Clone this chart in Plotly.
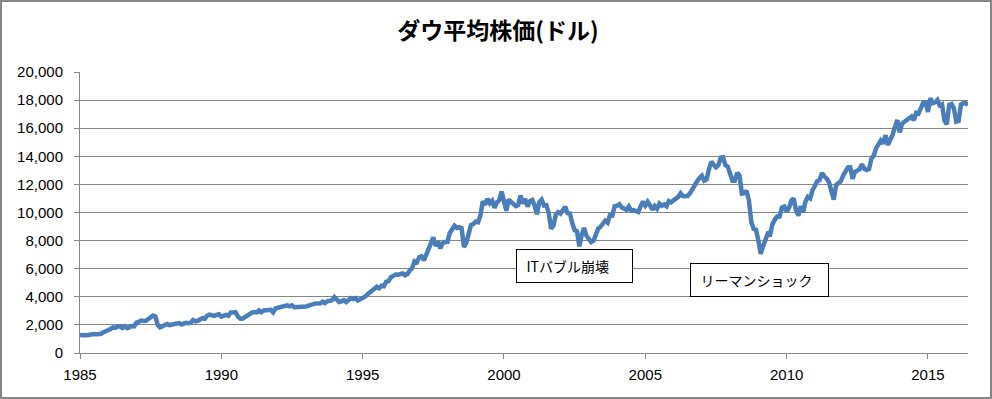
import plotly.graph_objects as go

# Monthly closing values of the Dow Jones Industrial Average (USD)
dow_1985 = [1277, 1299, 1267, 1258, 1315, 1336, 1348, 1334, 1329, 1374, 1472, 1547]
dow_1986 = [1571, 1709, 1819, 1784, 1877, 1893, 1775, 1898, 1768, 1878, 1914, 1896]
dow_1987 = [2158, 2224, 2305, 2286, 2292, 2419, 2572, 2663, 2596, 1994, 1834, 1939]
dow_1988 = [1958, 2072, 1988, 2032, 2031, 2142, 2129, 2032, 2113, 2149, 2115, 2169]
dow_1989 = [2342, 2258, 2294, 2419, 2480, 2440, 2661, 2737, 2693, 2645, 2706, 2753]
dow_1990 = [2591, 2627, 2707, 2657, 2877, 2881, 2905, 2615, 2453, 2442, 2560, 2634]
dow_1991 = [2736, 2882, 2914, 2888, 3028, 2907, 3025, 3044, 3017, 3069, 2895, 3169]
dow_1992 = [3224, 3268, 3236, 3359, 3397, 3319, 3394, 3257, 3272, 3226, 3306, 3301]
dow_1993 = [3310, 3371, 3435, 3428, 3527, 3516, 3540, 3651, 3555, 3681, 3684, 3754]
dow_1994 = [3978, 3832, 3636, 3682, 3758, 3625, 3765, 3913, 3843, 3908, 3739, 3834]
dow_1995 = [3844, 4011, 4158, 4321, 4465, 4556, 4709, 4611, 4789, 4756, 5075, 5117]
dow_1996 = [5395, 5486, 5587, 5569, 5643, 5655, 5529, 5616, 5882, 6029, 6522, 6448]
dow_1997 = [6813, 6878, 6584, 7009, 7331, 7673, 8223, 7622, 7945, 7442, 7823, 7908]
dow_1998 = [7907, 8546, 8800, 9063, 8900, 8952, 8883, 7539, 7843, 8592, 9117, 9181]
dow_1999 = [9359, 9307, 9786, 10789, 10560, 10971, 10655, 10829, 10337, 10730, 10878, 11497]
dow_2000 = [10941, 10128, 10922, 10734, 10522, 10448, 10522, 11215, 10651, 10971, 10415, 10787]
dow_2001 = [10887, 10495, 9879, 10735, 10912, 10502, 10523, 9950, 8848, 9075, 9852, 10022]
dow_2002 = [9920, 10106, 10404, 9946, 9925, 9243, 8737, 8664, 7592, 8397, 8896, 8342]
dow_2003 = [8054, 7891, 7992, 8480, 8850, 8985, 9234, 9416, 9275, 9801, 9782, 10454]
dow_2004 = [10488, 10584, 10358, 10226, 10188, 10435, 10140, 10174, 10080, 10027, 10428, 10783]
dow_2005 = [10490, 10766, 10504, 10193, 10467, 10275, 10641, 10482, 10569, 10440, 10806, 10718]
dow_2006 = [10865, 10993, 11109, 11367, 11168, 11150, 11186, 11381, 11679, 12081, 12222, 12463]
dow_2007 = [12622, 12268, 12354, 13063, 13628, 13409, 13212, 13358, 13896, 13930, 13372, 13265]
dow_2008 = [12650, 12266, 12263, 12820, 12638, 11350, 11378, 11544, 10851, 9325, 8829, 8776]
dow_2009 = [8001, 7063, 7609, 8168, 8500, 8447, 9172, 9496, 9712, 9713, 10345, 10428]
dow_2010 = [10067, 10325, 10857, 11009, 10137, 9774, 10466, 10015, 10788, 11118, 11006, 11578]
dow_2011 = [11892, 12226, 12320, 12811, 12570, 12414, 12143, 11614, 10913, 11955, 12046, 12218]
dow_2012 = [12633, 12952, 13212, 13214, 12393, 12880, 13009, 13091, 13437, 13096, 13026, 13104]
dow_2013 = [13861, 14054, 14579, 14840, 15116, 14910, 15500, 14810, 15130, 15546, 16086, 16577]
dow_2014 = [15699, 16322, 16458, 16581, 16717, 16827, 16563, 17098, 17043, 17391, 17828, 17823]
dow_2015 = [17165, 18133, 17776, 17841, 18011, 17620, 17690, 16528, 16285, 17664, 17720, 17425]
dow_2016 = [16466, 16517, 17685, 17774, 17787, 17650]

years = list(range(1985, 2017))
yearly = [dow_1985, dow_1986, dow_1987, dow_1988, dow_1989, dow_1990, dow_1991,
          dow_1992, dow_1993, dow_1994, dow_1995, dow_1996, dow_1997, dow_1998,
          dow_1999, dow_2000, dow_2001, dow_2002, dow_2003, dow_2004, dow_2005,
          dow_2006, dow_2007, dow_2008, dow_2009, dow_2010, dow_2011, dow_2012,
          dow_2013, dow_2014, dow_2015, dow_2016]

x_vals, y_vals = [], []
for yr, vals in zip(years, yearly):
    for m, v in enumerate(vals):
        x_vals.append(yr + m / 12)
        y_vals.append(v)

title_text = "ダウ平均株価(ドル)"
x_ticks = [1985, 1990, 1995, 2000, 2005, 2010, 2015]
y_ticks = list(range(0, 20001, 2000))
y_tick_labels = [f"{v:,}" for v in y_ticks]

events = ["ITバブル崩壊", "リーマンショック"]
event_x = [2002.49, 2009.04]
event_y = [6190, 5196]
event_w = [115, 137]

grid = "#868686"
fig = go.Figure()
fig.add_trace(go.Scatter(x=x_vals, y=y_vals, mode="lines",
                         line=dict(color="#4a7ebb", width=4.5), hoverinfo="skip"))

for txt, ex, ey, ew in zip(events, event_x, event_y, event_w):
    fig.add_annotation(x=ex, y=ey, xref="x", yref="y", text="&nbsp;&nbsp;&nbsp;" + txt,
                       showarrow=False, width=ew, height=32, align="left", valign="middle",
                       bordercolor="#000000", borderwidth=1, borderpad=0, bgcolor="#ffffff",
                       font=dict(family="Noto Sans CJK JP", size=14, color="#000000"))

fig.update_layout(
    width=992, height=399,
    margin=dict(l=80, r=24, t=72, b=46),
    paper_bgcolor="#ffffff", plot_bgcolor="#ffffff",
    showlegend=False,
    title=dict(text=title_text, x=0.502, xanchor="center", y=0.922, yanchor="middle",
               font=dict(family="Noto Sans CJK JP", size=23, color="#000000", weight="bold")),
    font=dict(family="Liberation Sans", size=15, color="#000000"),
    xaxis=dict(range=[1985, 2016 + 5 / 12], tickvals=x_ticks, ticktext=[str(t) for t in x_ticks],
               showgrid=False, zeroline=False, showline=True, linecolor=grid, linewidth=1,
               ticks="outside", ticklen=5, tickcolor=grid, tickfont=dict(size=15),
               ticklabelstandoff=3),
    yaxis=dict(range=[0, 20000], tickvals=y_ticks, ticktext=y_tick_labels,
               showgrid=True, gridcolor=grid, gridwidth=1, zeroline=False,
               showline=True, linecolor=grid, linewidth=1,
               ticks="outside", ticklen=5, tickcolor=grid, tickfont=dict(size=15),
               ticklabelstandoff=8),
    shapes=[dict(type="rect", xref="paper", yref="paper",
                 x0=-79 / 888, x1=(991 - 80) / 888, y0=-(398 - 353) / 281, y1=(353 - 1) / 281,
                 line=dict(color=grid, width=2), fillcolor="rgba(0,0,0,0)", layer="above")],
)

fig.write_html("out.html", config={"displayModeBar": False},
               post_script="document.body.style.margin='0';document.body.style.overflow='hidden';")
